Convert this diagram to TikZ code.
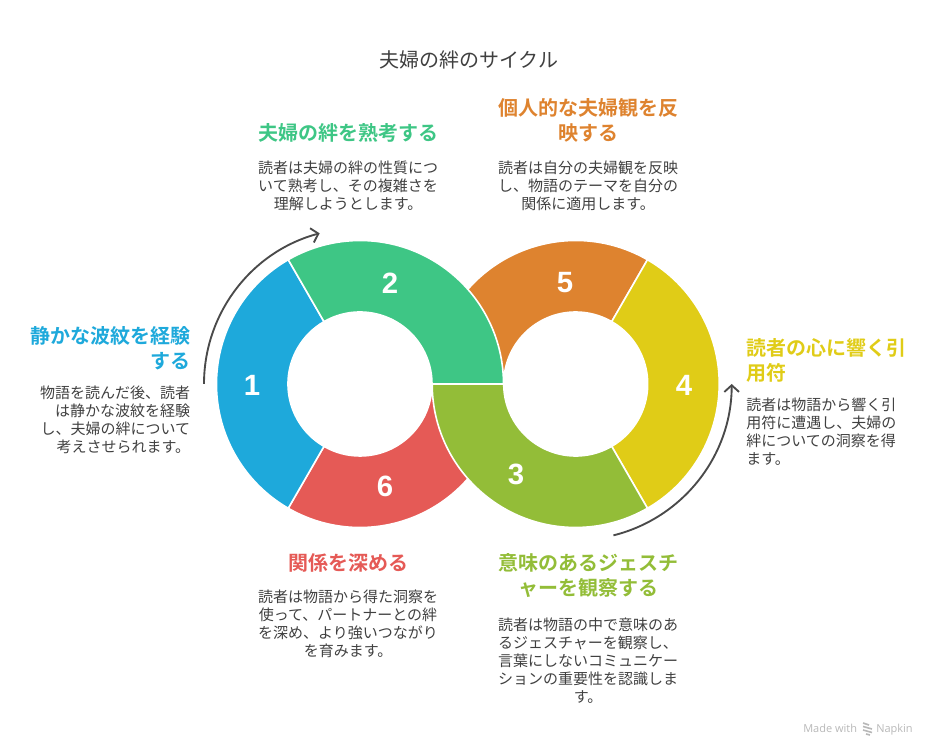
\documentclass[tikz,border=0pt]{standalone}
\usepackage{fontspec}
\setmainfont{Noto Sans CJK JP}[BoldFont={Noto Sans CJK JP Bold}]
\newfontfamily\numfont{Liberation Sans}
\newfontfamily\markfont{Open Sans}
\usetikzlibrary{arrows.meta, calc}
\definecolor{segblue}{HTML}{1EA9DB}
\definecolor{seggreen}{HTML}{3EC685}
\definecolor{segolive}{HTML}{93BD38}
\definecolor{segyellow}{HTML}{E0CC17}
\definecolor{segorange}{HTML}{DE832F}
\definecolor{segred}{HTML}{E55A56}
\definecolor{bodygray}{HTML}{404040}
\definecolor{arrowgray}{HTML}{4A4A4A}
\definecolor{markgray}{HTML}{B8B8B8}
\tikzset{
    segment/.style={draw=white, line width=1.2pt, line join=miter},
    numlabel/.style={white, font=\numfont\bfseries\fontsize{22}{26}\selectfont},
    titlelabel/.style={text=bodygray, font=\fontsize{15}{18}\selectfont},
    headlabel/.style={align=center, inner sep=0pt, font=\bfseries\fontsize{15}{18.75}\selectfont},
    bodylabel/.style={align=center, inner sep=0pt, text=bodygray, font=\fontsize{11.25}{13.5}\selectfont},
    cyclearrow/.style={arrowgray, line width=1.4pt, -{Straight Barb[length=5pt,width=11pt]}},
    marklabel/.style={markgray, inner sep=0pt, font=\markfont\fontsize{8.25}{10}\selectfont}
}
% ring segment: centre, start angle, end angle, colour
\newcommand{\ringseg}[4]{
    \draw[segment, fill=#4] ($(#1)+(#2:143.5)$) arc (#2:#3:143.5)
        -- ($(#1)+(#3:72)$) arc (#3:#2:72) -- cycle;
}
\begin{document}
\begin{tikzpicture}[x=0.75pt, y=0.75pt]
    \useasboundingbox (0,0) rectangle (936,756);
    \coordinate (leftc) at (360,372);
    \coordinate (rightc) at (575.7,372);

    % Title
    \node[titlelabel] (title) at (468.5,696) {夫婦の絆のサイクル};

    % Segments hidden by their neighbours come first
    \ringseg{leftc}{240}{360}{segred}
    \ringseg{rightc}{60}{180}{segorange}
    \ringseg{leftc}{120}{240}{segblue}
    \ringseg{rightc}{-60}{60}{segyellow}
    \ringseg{leftc}{0}{120}{seggreen}
    \ringseg{rightc}{180}{300}{segolive}

    % Numbers
    \node[numlabel] (num1) at (252,371) {1};
    \node[numlabel] (num2) at (390,473) {2};
    \node[numlabel] (num3) at (516,282) {3};
    \node[numlabel] (num4) at (684,371) {4};
    \node[numlabel] (num5) at (565,473) {5};
    \node[numlabel] (num6) at (385,270) {6};

    % Cycle arrows
    \draw[cyclearrow] ($(leftc)+(180:156)$) arc (180:105:156);
    \draw[cyclearrow] ($(rightc)+(-76:156)$) arc (-76:0:156);

    % Step 1
    \node[headlabel, segblue, align=right, anchor=east] (head1) at (191,408) {静かな波紋を経験\\する};
    \node[bodylabel, align=right, anchor=east] (body1) at (190.5,336) {物語を読んだ後、読者\\は静かな波紋を経験\\し、夫婦の絆について\\考えさせられます。};

    % Step 2
    \node[headlabel, seggreen] (head2) at (348,623.5) {夫婦の絆を熟考する};
    \node[bodylabel] (body2) at (348,570.5) {読者は夫婦の絆の性質につ\\いて熟考し、その複雑さを\\理解しようとします。};

    % Step 3
    \node[headlabel, segolive] (head3) at (588,180.5) {意味のあるジェスチ\\ャーを観察する};
    \node[bodylabel] (body3) at (588,95.5) {読者は物語の中で意味のあ\\るジェスチャーを観察し、\\言葉にしないコミュニケー\\ションの重要性を認識しま\\す。};

    % Step 4
    \node[headlabel, segyellow, align=left, anchor=west] (head4) at (746,395.5) {読者の心に響く引\\用符};
    \node[bodylabel, align=left, anchor=west] (body4) at (746,324.5) {読者は物語から響く引\\用符に遭遇し、夫婦の\\絆についての洞察を得\\ます。};

    % Step 5
    \node[headlabel, segorange] (head5) at (588,635.5) {個人的な夫婦観を反\\映する};
    \node[bodylabel] (body5) at (588,570.5) {読者は自分の夫婦観を反映\\し、物語のテーマを自分の\\関係に適用します。};

    % Step 6
    \node[headlabel, segred] (head6) at (348,193) {関係を深める};
    \node[bodylabel] (body6) at (348,132) {読者は物語から得た洞察を\\使って、パートナーとの絆\\を深め、より強いつながり\\を育みます。};

    % Watermark
    \node[marklabel, anchor=base west] (madewith) at (803,23.5) {Made with};
    \node[marklabel, anchor=base west] (napkin) at (876,23.5) {Napkin};
    \draw[markgray, line width=1.2pt] (863,33) -- (869,31) (863,29.5) -- (872,27) (863,26) -- (872,23.5) (866,22) -- (870,21);
\end{tikzpicture}
\end{document}
